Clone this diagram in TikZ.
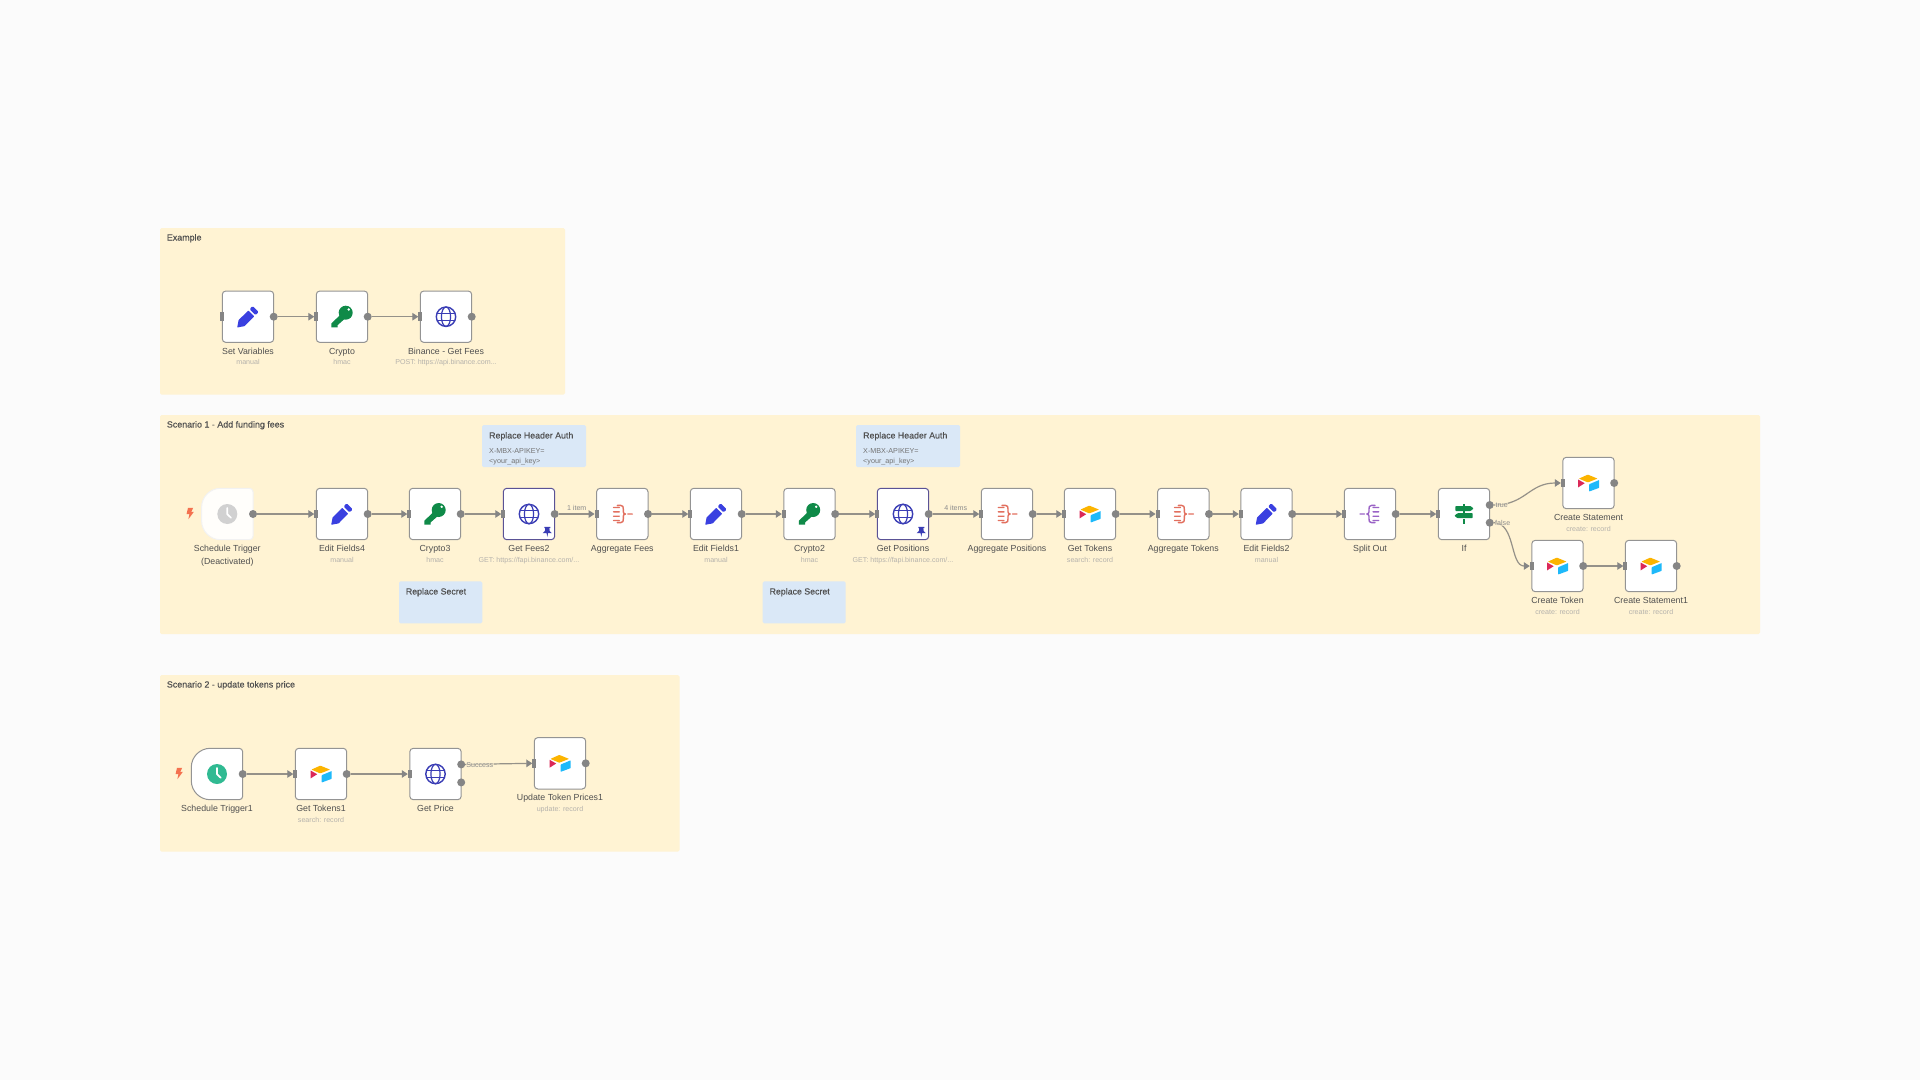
\documentclass[tikz,border=0pt]{standalone}
\usepackage{fontspec}
\setmainfont{Liberation Sans}
\newfontfamily\semib[FakeBold=0.3]{Liberation Sans}
\usetikzlibrary{arrows.meta}
\definecolor{bgc}{HTML}{FBFBFB}
\definecolor{panelc}{HTML}{FFF3D3}
\definecolor{notec}{HTML}{DAE8F7}
\definecolor{edgec}{HTML}{959189}
\definecolor{portc}{HTML}{858585}
\definecolor{borderc}{HTML}{949494}
\definecolor{pinborder}{HTML}{5A5296}
\definecolor{textc}{HTML}{505050}
\definecolor{subc}{HTML}{B5B2AC}
\definecolor{penc}{HTML}{3A40E0}
\definecolor{keyc}{HTML}{0F8A48}
\definecolor{globec}{HTML}{3A3DB5}
\definecolor{clockc}{HTML}{30BA92}
\definecolor{aggc}{HTML}{E2705F}
\definecolor{splitc}{HTML}{9A63C6}
\definecolor{boltc}{HTML}{F4714F}
\newcommand\aggpath{(-8.7,-6.5)--(-3,-6.5) (-8.7,-2.2)--(-3,-2.2) (-8.7,2.2)--(-3,2.2) (-8.7,6.5)--(-3,6.5)
      (-5,-8.6)--(-1.5,-8.6) .. controls (0.8,-8.6) and (1,-7) .. (1,-5)--(1,-2.2) .. controls (1,-0.8) and (2,0) .. (3.2,0)
      .. controls (2,0) and (1,0.8) .. (1,2.2)--(1,5) .. controls (1,7) and (0.8,8.6) .. (-1.5,8.6)--(-5,8.6)
      (5.5,0)--(10,0)}
\tikzset{
  x=1pt,y=-1pt,
  panel/.style={fill=panelc,draw=none,rounded corners=1.5pt,anchor=north west,inner sep=0,outer sep=0},
  notebox/.style={fill=notec,draw=none,rounded corners=1.5pt,anchor=north west,inner sep=0,outer sep=0},
  box/.style={draw=borderc,line width=1pt,fill=white,rounded corners=3.5pt,minimum size=51.4pt,inner sep=0,outer sep=0},
  pinbox/.style={box,draw=pinborder},
  trig/.style={minimum size=51.4pt,inner sep=0,outer sep=0},
  outport/.style={circle,fill=portc,minimum size=8pt,inner sep=0,outer sep=0},
  inport/.style={rectangle,fill=portc,minimum width=4pt,minimum height=8.5pt,inner sep=0,outer sep=0},
  lbl/.style={anchor=base,inner sep=0,text=textc,font=\fontsize{8.8}{10}\selectfont},
  sublbl/.style={anchor=base,inner sep=0,text=subc,font=\fontsize{7.1}{8}\selectfont},
  grouptitle/.style={anchor=west,inner sep=0,text=textc,font=\semib\fontsize{8.9}{10}\selectfont},
  notetitle/.style={anchor=west,inner sep=0,text=textc,font=\semib\fontsize{8.8}{10}\selectfont},
  notetext/.style={anchor=west,inner sep=0,text=black!55,font=\fontsize{7.2}{8}\selectfont},
  edgelbl/.style={inner sep=0.5pt,text=black!45,font=\fontsize{7.1}{8}\selectfont},
  conn/.style={draw=edgec,line width=1.2pt,-{Triangle[length=6pt,width=7.5pt,color=portc]}},
  icpen/.pic={
    \fill[penc,rounded corners=0.4pt] (-10.8,10.8)--(-9.4,3.4)--(0.3,-6.2)--(6.2,-0.3)--(-3.4,9.4)--cycle;
    \fill[penc,rounded corners=1.2pt] (1.6,-7.5)--(7.5,-1.6)--(10.7,-4.6)--(4.6,-10.7)--cycle;
  },
  ickey/.pic={
    \fill[keyc,even odd rule] (3.7,-4) circle[radius=7] (6.7,-7.2) circle[radius=1.6];
    \fill[keyc] (0,-3.5)--(4,1)--(-4.5,8.5)--(-4.5,10.7)--(-8,10.7)--(-10.7,10.7)--(-10.7,6.8)--cycle;
  },
  icglobe/.pic={
    \draw[globec,line width=1.4pt] (0,0) circle[radius=9.7];
    \draw[globec,line width=1.2pt] (0,0) ellipse[x radius=4.6,y radius=9.7];
    \draw[globec,line width=1.2pt] (-8.8,-3.4)--(8.8,-3.4) (-8.8,3.4)--(8.8,3.4);
  },
  icclock/.pic={
    \fill[pic actions] (0,0) circle[radius=10];
    \draw[white,line width=1.7pt,line cap=round,line join=round] (0,-6)--(0,0.2)--(3.8,3.8);
  },
  icair/.pic={
    \fill[fill={rgb,255:red,252;green,180;blue,0},rounded corners=0.5pt] (-0.7,-8.4)--(9,-4.4)--(-0.7,-0.6)--(-9.6,-4.4)--cycle;
    \fill[fill={rgb,255:red,219;green,40;blue,88}] (-10.4,-3.5)--(-3.8,0.2)--(-10.4,4.4)--cycle;
    \fill[fill={rgb,255:red,30;green,185;blue,250},rounded corners=0.5pt] (0.7,1.2)--(10.7,-3)--(10.7,4.8)--(0.7,8.5)--cycle;
  },
  icagg/.pic={
    \draw[aggc,line width=1.4pt,line cap=round,line join=round] \aggpath;
  },
  icsplit/.pic={
    \draw[splitc,xscale=-1,line width=1.4pt,line cap=round,line join=round] \aggpath;
  },
  icif/.pic={
    \fill[keyc] (-1.1,-10.4) rectangle (1.1,-8.4);
    \fill[keyc] (-1.1,-3) rectangle (1.1,-1);
    \fill[keyc] (-1.1,4.6) rectangle (1.1,10.4);
    \fill[keyc,rounded corners=0.6pt] (-8.6,-8)--(6.5,-8)--(9.6,-5.5)--(6.5,-3)--(-8.6,-3)--cycle;
    \fill[keyc,rounded corners=0.6pt] (8.6,-0.8)--(-6.5,-0.8)--(-9.6,1.7)--(-6.5,4.2)--(8.6,4.2)--cycle;
  },
  icpin/.pic={
    \fill[globec] (-3,-4.2)--(3,-4.2)--(3,-3)--(2,-3)--(2.4,0)--(4.6,2.2)--(0.7,2.2)--(0,6)--(-0.7,2.2)--(-4.6,2.2)--(-2.4,0)--(-2,-3)--(-3,-3)--cycle;
  },
  icbolt/.pic={
    \fill[boltc] (-2,-5.6)--(3.2,-5.6)--(1.2,-1.5)--(3.8,-1.5)--(-1.6,5.8)--(-0.6,0.6)--(-3.4,0.6)--cycle;
  },
}
% name, x, y, icon, label, sublabel
\newcommand\wfnode[6]{%
  \node[box] (#1) at (#2,#3) {};
  \node[inport] (#1i) at (#1.west) {};
  \node[outport] (#1o) at (#1.east) {};
  \pic at (#1.center) {#4};
  \node[lbl] (#1l) at ([yshift=-37.6pt]#1.center) {#5};
  \node[sublbl] (#1s) at ([yshift=-48.2pt]#1.center) {#6};
}
\begin{document}
\begin{tikzpicture}
\useasboundingbox[fill=bgc] (0,0) rectangle (1920,1080);
% groups
\node[panel,minimum width=405pt,minimum height=166.5pt] (g1) at (160,228) {};
\node[panel,minimum width=1600pt,minimum height=219pt] (g2) at (160,415) {};
\node[panel,minimum width=519.5pt,minimum height=176.5pt] (g3) at (160,675) {};
\node[grouptitle] (g1t) at (166.7,238.2) {Example};
\node[grouptitle] (g2t) at (166.7,425.2) {Scenario 1 - Add funding fees};
\node[grouptitle] (g3t) at (166.7,685.2) {Scenario 2 - update tokens price};
% notes
\node[notebox,minimum width=104pt,minimum height=42pt] (n1) at (482,425) {};
\node[notetitle] (n1t) at (489,436.2) {Replace Header Auth};
\node[notetext] (n1a) at (489,450.8) {X-MBX-APIKEY=};
\node[notetext] (n1b) at (489,461.2) {<your\_api\_key>};
\node[notebox,minimum width=104pt,minimum height=42pt] (n2) at (856,425) {};
\node[notetitle] (n2t) at (863,436.2) {Replace Header Auth};
\node[notetext] (n2a) at (863,450.8) {X-MBX-APIKEY=};
\node[notetext] (n2b) at (863,461.2) {<your\_api\_key>};
\node[notebox,minimum width=83.3pt,minimum height=42pt] (n3) at (399,581.3) {};
\node[notetitle] (n3t) at (405.7,592.2) {Replace Secret};
\node[notebox,minimum width=83pt,minimum height=42pt] (n4) at (762.7,581.3) {};
\node[notetitle] (n4t) at (769.4,592.2) {Replace Secret};
% Example
\wfnode{sv}{248}{316.7}{icpen}{Set Variables}{manual}
\wfnode{cr}{342}{316.7}{ickey}{Crypto}{hmac}
\wfnode{bn}{446}{316.7}{icglobe}{Binance - Get Fees}{POST: https://api.binance.com...}
% Scenario 1
\node[trig] (st) at (227.3,514) {};
\draw[draw=black!5,line width=1pt,fill=white!70!panelc!30!white] (st.east) [rounded corners=3.5pt] -- (st.north east) [rounded corners=19pt] -- (st.north west) -- (st.south west) [rounded corners=3.5pt] -- (st.south east) -- cycle;
\node[outport] (sto) at (st.east) {};
\pic[fill=black!18] at (st.center) {icclock};
\pic at (190,513.4) {icbolt};
\node[lbl] (stl) at ([yshift=-37.2pt]st.center) {Schedule Trigger};
\node[lbl] (stm) at ([yshift=-50.2pt]st.center) {(Deactivated)};
\wfnode{ef4}{342}{514}{icpen}{Edit Fields4}{manual}
\wfnode{c3}{435}{514}{ickey}{Crypto3}{hmac}
\node[pinbox] (gf) at (529,514) {};
\node[inport] (gfi) at (gf.west) {};
\node[outport] (gfo) at (gf.east) {};
\pic at (gf.center) {icglobe};
\pic at (547.3,531) {icpin};
\node[lbl] (gfl) at ([yshift=-37.6pt]gf.center) {Get Fees2};
\node[sublbl] (gfs) at ([yshift=-48.2pt]gf.center) {GET: https://fapi.binance.com/...};
\wfnode{af}{622.3}{514}{icagg}{Aggregate Fees}{}
\wfnode{ef1}{716}{514}{icpen}{Edit Fields1}{manual}
\wfnode{c2}{809.5}{514}{ickey}{Crypto2}{hmac}
\node[pinbox] (gp) at (903,514) {};
\node[inport] (gpi) at (gp.west) {};
\node[outport] (gpo) at (gp.east) {};
\pic at (gp.center) {icglobe};
\pic at (921.3,531) {icpin};
\node[lbl] (gpl) at ([yshift=-37.6pt]gp.center) {Get Positions};
\node[sublbl] (gps) at ([yshift=-48.2pt]gp.center) {GET: https://fapi.binance.com/...};
\wfnode{ap}{1007}{514}{icagg}{Aggregate Positions}{}
\wfnode{gt}{1090}{514}{icair}{Get Tokens}{search: record}
\wfnode{at}{1183.3}{514}{icagg}{Aggregate Tokens}{}
\wfnode{ef2}{1266.5}{514}{icpen}{Edit Fields2}{manual}
% split out
\wfnode{so}{1370}{514}{icsplit}{Split Out}{}
% if
\node[box] (iff) at (1464,514) {};
\node[inport] (iffi) at (iff.west) {};
\node[outport] (ifft) at (1489.7,505) {};
\node[outport] (ifff) at (1489.7,522.7) {};
\pic at (iff.center) {icif};
\node[lbl] (iffl) at ([yshift=-37.6pt]iff.center) {If};
\wfnode{cs}{1588.5}{483}{icair}{Create Statement}{create: record}
\wfnode{ct}{1557.5}{566}{icair}{Create Token}{create: record}
\wfnode{ca}{1651}{566}{icair}{Create Statement1}{create: record}
% Scenario 2
\node[trig] (su) at (217,774) {};
\draw[draw=borderc,line width=1pt,fill=white] (su.east) [rounded corners=3.5pt] -- (su.north east) [rounded corners=19pt] -- (su.north west) -- (su.south west) [rounded corners=3.5pt] -- (su.south east) -- cycle;
\node[outport] (suo) at (su.east) {};
\pic[fill=clockc] at (su.center) {icclock};
\pic at (179,773.4) {icbolt};
\node[lbl] (sul) at ([yshift=-37.6pt]su.center) {Schedule Trigger1};
\wfnode{gk}{321}{774}{icair}{Get Tokens1}{search: record}
\node[box] (pr) at (435.5,774) {};
\node[inport] (pri) at (pr.west) {};
\node[outport] (prs) at (461.2,764.4) {};
\node[outport] (prf) at (461.2,782.4) {};
\pic at (pr.center) {icglobe};
\node[lbl] (prl) at ([yshift=-37.6pt]pr.center) {Get Price};
\wfnode{up}{560}{763.3}{icair}{Update Token Prices1}{update: record}
% connectors
\draw[conn] (svo) -- (cri);
\draw[conn] (cro) -- (bni);
\draw[conn] (sto) -- (ef4i);
\draw[conn] (ef4o) -- (c3i);
\draw[conn] (c3o) -- (gfi);
\draw[conn] (gfo) -- (afi);
\draw[conn] (afo) -- (ef1i);
\draw[conn] (ef1o) -- (c2i);
\draw[conn] (c2o) -- (gpi);
\draw[conn] (gpo) -- (api);
\draw[conn] (apo) -- (gti);
\draw[conn] (gto) -- (ati);
\draw[conn] (ato) -- (ef2i);
\draw[conn] (ef2o) -- (soi);
\draw[conn] (soo) -- (iffi);
\draw[conn] (ifft.east) .. controls +(32,0) and +(-32,0) .. (csi.west);
\draw[conn] (ifff.east) .. controls +(22,0) and +(-20,0) .. (cti.west);
\draw[conn] (cto) -- (cai);
\draw[conn] (suo) -- (gki);
\draw[conn] (gko) -- (pri);
\draw[conn] (prs.east) -- (upi.west);
% edge labels
\node[edgelbl] (e1) at (576.7,507.8) {1 item};
\node[edgelbl] (e2) at (955.7,507.8) {4 items};
\node[edgelbl,fill=panelc,fill opacity=.6,text opacity=1] (e3) at (1501.7,505.3) {true};
\node[edgelbl,fill=panelc,fill opacity=.6,text opacity=1] (e4) at (1502.7,523) {false};
\node[edgelbl,fill=panelc,fill opacity=.6,text opacity=1] (e5) at (479.8,764.7) {Success};
\end{tikzpicture}
\end{document}
